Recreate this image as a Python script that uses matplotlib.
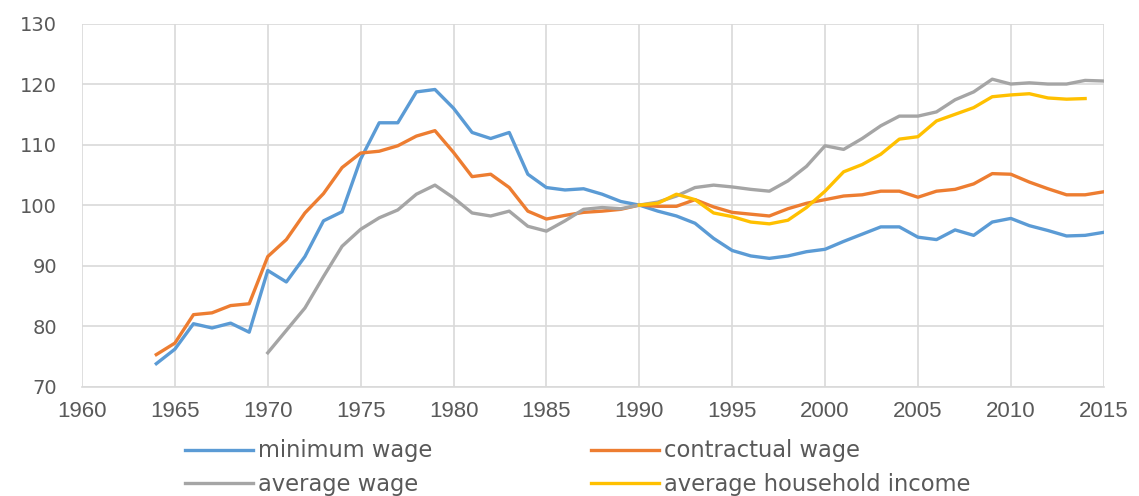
import numpy as np
import matplotlib
matplotlib.use('Agg')
import matplotlib.pyplot as plt

years = list(range(1964, 2016))

min_wage = [73.8, 76.2, 80.4, 79.7, 80.5, 79.0, 89.2, 87.3, 91.5, 97.4,
            98.9, 107.6, 113.6, 113.6, 118.7, 119.1, 116.0, 112.0, 111.0, 112.0,
            105.1, 102.9, 102.5, 102.7, 101.8, 100.6, 100.0, 99.0, 98.2, 97.0,
            94.5, 92.5, 91.6, 91.2, 91.6, 92.3, 92.7, 94.0, 95.2, 96.4,
            96.4, 94.7, 94.3, 95.9, 95.0, 97.2, 97.8, 96.6, 95.8, 94.9,
            95.0, 95.5]

contract_wage = [75.3, 77.2, 81.9, 82.2, 83.4, 83.7, 91.5, 94.3, 98.7, 101.9,
                 106.2, 108.6, 108.9, 109.8, 111.4, 112.3, 108.7, 104.7, 105.1, 102.9,
                 99.0, 97.7, 98.3, 98.8, 99.0, 99.3, 100.0, 99.8, 99.8, 100.9,
                 99.7, 98.8, 98.5, 98.2, 99.4, 100.3, 100.9, 101.5, 101.7, 102.3,
                 102.3, 101.3, 102.3, 102.6, 103.5, 105.2, 105.1, 103.8, 102.7, 101.7,
                 101.7, 102.2]

avg_years = list(range(1970, 2016))
avg_wage = [75.6, 79.3, 83.0, 88.2, 93.2, 96.0, 97.9, 99.2, 101.8, 103.3,
            101.2, 98.7, 98.2, 99.0, 96.5, 95.7, 97.4, 99.3, 99.6, 99.4,
            100.0, 100.5, 101.5, 102.9, 103.3, 103.0, 102.6, 102.3, 104.0, 106.4,
            109.8, 109.2, 111.0, 113.1, 114.7, 114.7, 115.4, 117.4, 118.7, 120.8,
            120.0, 120.2, 120.0, 120.0, 120.6, 120.5]

hh_years = list(range(1990, 2015))
hh_income = [100.0, 100.3, 101.8, 100.9, 98.7, 98.1, 97.2, 96.9, 97.5, 99.6,
             102.3, 105.5, 106.7, 108.4, 110.9, 111.3, 113.9, 115.0, 116.1, 117.9,
             118.2, 118.4, 117.7, 117.5, 117.6]

fig = plt.figure(figsize=(11.39, 4.96), dpi=100)
ax = fig.add_axes([0.072, 0.2204, 0.897, 0.7322])

lw = 2.4
l1, = ax.plot(years, min_wage, color='#5B9BD5', lw=lw, label='minimum wage')
l2, = ax.plot(years, contract_wage, color='#ED7D31', lw=lw, label='contractual wage')
l3, = ax.plot(avg_years, avg_wage, color='#A5A5A5', lw=lw, label='average wage')
l4, = ax.plot(hh_years, hh_income, color='#FFC000', lw=lw, label='average household income')

ax.set_xlim(1960, 2015)
ax.set_ylim(70, 130)
ax.set_xticks(range(1960, 2016, 5))
ax.set_yticks(range(70, 131, 10))
ax.grid(True, color='#D9D9D9', lw=1.2)
ax.set_axisbelow(True)
for s in ['top', 'right', 'left']:
    ax.spines[s].set_visible(False)
ax.spines['bottom'].set_color('#D9D9D9')
ax.spines['bottom'].set_linewidth(1.2)
ax.tick_params(length=0, colors='#595959')
ax.tick_params(axis='x', pad=10)
ax.tick_params(axis='y', pad=18)
for lab in ax.get_xticklabels():
    lab.set_fontfamily('Liberation Sans')
    lab.set_fontsize(16)
for lab in ax.get_yticklabels():
    lab.set_fontfamily('DejaVu Sans')
    lab.set_fontsize(14)

# legend sits low, two rows, like the original export
leg = fig.legend(handles=[l1, l3, l2, l4], ncol=2, loc='upper left',
                 bbox_to_anchor=(0.1624, 0.114), frameon=False,
                 prop={'family': 'DejaVu Sans', 'size': 16.3},
                 handlelength=3.0, handletextpad=0.23, columnspacing=7.0,
                 labelspacing=0.45, borderaxespad=0, borderpad=0)
for t in leg.get_texts():
    t.set_color('#595959')

fig.savefig('out.png', dpi=100)
